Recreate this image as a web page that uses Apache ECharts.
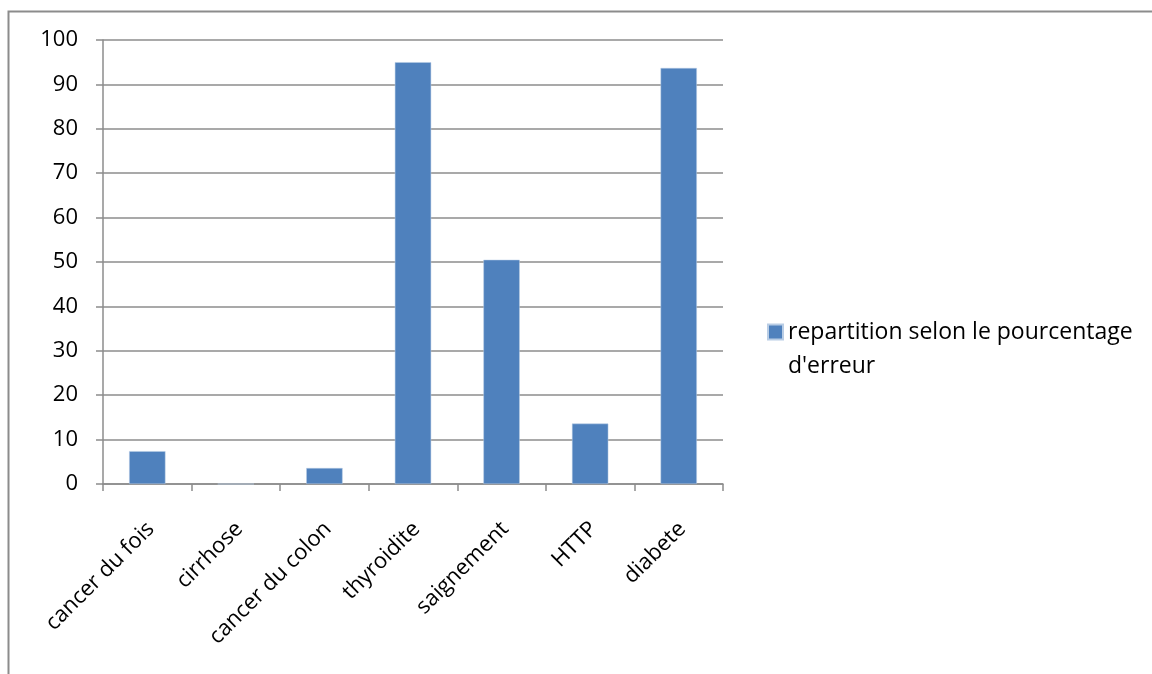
<!DOCTYPE html>
<html><head><meta charset="utf-8">
<script src="https://cdn.jsdelivr.net/npm/echarts@6/dist/echarts.min.js"></script>
<style>html,body{margin:0;padding:0;background:#fff}#c{width:1152px;height:674px}</style>
</head><body><div id="c"></div>
<script>
const categories = ['cancer du fois','cirrhose','cancer du colon','thyroidite','saignement','HTTP','diabete'];
const values = [7.4, 0, 3.6, 95.0, 50.5, 13.6, 93.7];
const seriesName = "repartition selon le pourcentage d'erreur";
const legendLines = ['repartition selon le pourcentage', "d'erreur"];
const yTicks = {min: 0, max: 100, interval: 10};

const FONT = "'Open Sans', 'Liberation Sans', sans-serif";
const chart = echarts.init(document.getElementById('c'), null, {renderer: 'canvas'});
chart.setOption({
  animation: false,
  backgroundColor: '#fff',
  graphic: [{
    type: 'rect', shape: {x: 8.5, y: 11.5, width: 1200, height: 700},
    style: {fill: 'none', stroke: '#8c8c8c', lineWidth: 2}, silent: true
  }],
  grid: {left: 103, top: 40, right: 429, bottom: 190},
  legend: {
    data: [seriesName], left: 767, top: 281, orient: 'vertical', padding: 0,
    itemWidth: 15, itemHeight: 15, itemGap: 6, icon: 'rect',
    formatter: () => '\n' + legendLines.join('\n'),
    textStyle: {fontFamily: FONT, fontSize: 23, color: '#000', lineHeight: 34}
  },
  xAxis: {
    type: 'category', data: categories,
    axisLine: {lineStyle: {color: '#8c8c8c', width: 1.5}},
    axisTick: {show: true, length: 7, alignWithLabel: false, lineStyle: {color: '#8c8c8c', width: 1.5}},
    axisLabel: {rotate: 45, interval: 0, fontFamily: FONT, fontSize: 22, color: '#000', margin: 38, verticalAlign: 'top', lineHeight: 10}
  },
  yAxis: {
    type: 'value', min: yTicks.min, max: yTicks.max, interval: yTicks.interval,
    axisLine: {show: true, lineStyle: {color: '#8c8c8c', width: 1.5}},
    axisTick: {show: true, length: 7, lineStyle: {color: '#8c8c8c', width: 1.5}},
    splitLine: {lineStyle: {color: '#8c8c8c', width: 1.5}},
    axisLabel: {fontFamily: FONT, fontSize: 22, color: '#000', margin: 25}
  },
  series: [{
    name: seriesName, type: 'bar', data: values, barWidth: '41%',
    itemStyle: {color: '#4F81BD', borderColor: '#b9cde5', borderWidth: 0.5}
  }]
});
</script></body></html>
